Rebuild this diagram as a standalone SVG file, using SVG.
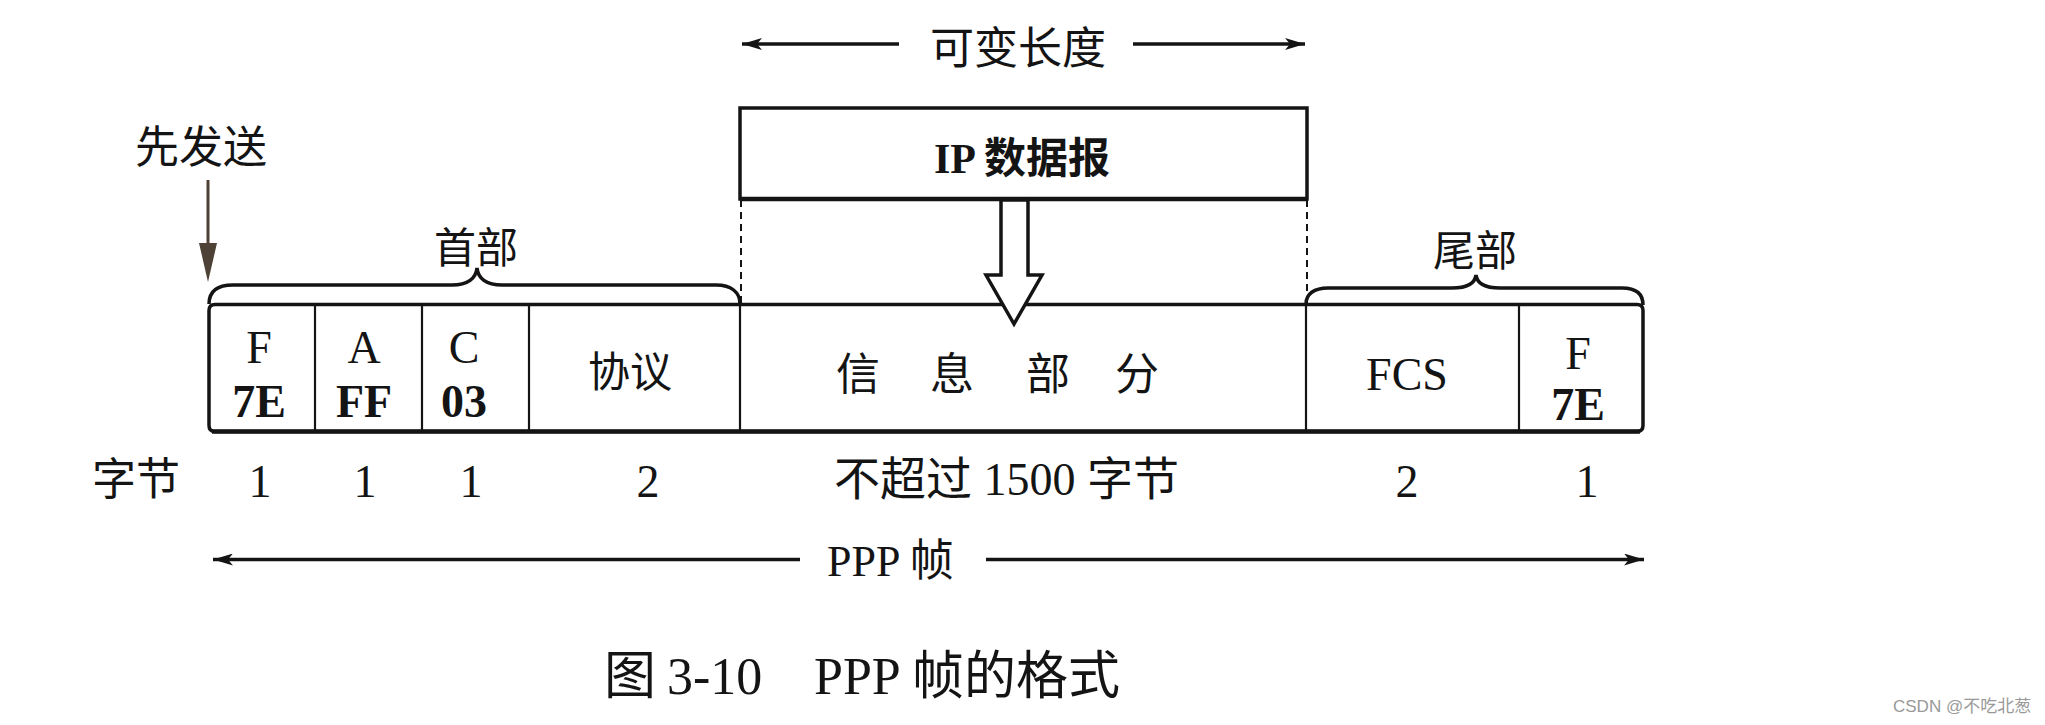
<svg xmlns="http://www.w3.org/2000/svg" width="2045" height="725" viewBox="0 0 2045 725">
<defs>
<style>
.ln{stroke:#141414;fill:none;stroke-width:3.5}
.dv{stroke:#141414;fill:none;stroke-width:2.2}
.ds{stroke:#141414;fill:none;stroke-width:2;stroke-dasharray:7 5}
.t{font-family:"Liberation Serif","Noto Sans CJK SC",serif;fill:#141414}
.b{font-weight:bold}
.m{text-anchor:middle}
</style>
<marker id="ah" markerUnits="userSpaceOnUse" markerWidth="20" markerHeight="12" refX="20" refY="6" orient="auto-start-reverse">
<path d="M0,0 L20,6 L0,12 L5,6 Z" fill="#141414"/>
</marker>
</defs>
<rect width="2045" height="725" fill="#ffffff"/>

<g id="connectors">
<line class="ln" x1="742" y1="44" x2="899" y2="44" marker-start="url(#ah)"/>
<line class="ln" x1="1133" y1="44" x2="1305" y2="44" marker-end="url(#ah)"/>
<line class="ds" x1="741" y1="200" x2="741" y2="303"/>
<line class="ds" x1="1307" y1="200" x2="1307" y2="305"/>
<line x1="208" y1="180" x2="208" y2="248" stroke="#4e4237" stroke-width="3"/>
<polygon points="199,243 217,243 208,282" fill="#4e4237"/>
<line class="ln" x1="213" y1="559.5" x2="800" y2="559.5" marker-start="url(#ah)"/>
<line class="ln" x1="986" y1="559.5" x2="1644" y2="559.5" marker-end="url(#ah)"/>
</g>

<g id="frame">
<path class="ln" d="M215,304.5 L1637,304.5 Q1643,304.5 1643,310.5 L1643,425.5 Q1643,431.5 1637,431.5 L215,431.5 Q209,431.5 209,425.5 L209,310.5 Q209,304.5 215,304.5 Z"/>
<line x1="212" y1="431.5" x2="1640" y2="431.5" stroke="#141414" stroke-width="4.5"/>
<line class="dv" x1="315" y1="304" x2="315" y2="431"/>
<line class="dv" x1="422" y1="304" x2="422" y2="431"/>
<line class="dv" x1="529" y1="304" x2="529" y2="431"/>
<line class="dv" x1="740" y1="304" x2="740" y2="431"/>
<line class="dv" x1="1306" y1="304" x2="1306" y2="431"/>
<line class="dv" x1="1519" y1="304" x2="1519" y2="431"/>
</g>

<g id="send-first">
<text class="t" x="135" y="163" font-size="44">先发送</text>
</g>

<g id="header-brace">
<path class="ln" d="M209,304 C209,291 218,285 233,285 L452,285 C468,285 476,278 477,268 C478,278 486,285 502,285 L716,285 C731,285 740,292 740,304"/>
<text class="t m" x="476" y="263" font-size="42">首部</text>
</g>

<g id="trailer-brace">
<path class="ln" d="M1306,304 C1306,294 1314,288 1328,288 L1452,288 C1467,288 1475,283 1476,275 C1477,283 1485,288 1500,288 L1622,288 C1636,288 1643,294 1643,305"/>
<text class="t m" x="1475" y="266" font-size="42">尾部</text>
</g>

<g id="variable-length">
<text class="t m" x="1018" y="64" font-size="44">可变长度</text>
</g>

<g id="ip-datagram">
<rect class="ln" x="740" y="108" width="567" height="91"/>
<line x1="740" y1="199" x2="1307" y2="199" stroke="#141414" stroke-width="4.5"/>
<text class="t b m" x="1022" y="173" font-size="42">IP 数据报</text>
</g>

<g id="hollow-arrow">
<polygon points="1001,200 1001,275 986,275 1014,324 1042,275 1028,275 1028,200" fill="#ffffff" stroke="#141414" stroke-width="3.5" stroke-linejoin="miter"/>
</g>

<g id="field-F1">
<text class="t m" x="259" y="363" font-size="46">F</text>
<text class="t b m" x="259" y="417" font-size="46">7E</text>
</g>
<g id="field-A">
<text class="t m" x="364" y="363" font-size="46">A</text>
<text class="t b m" x="364" y="417" font-size="46">FF</text>
</g>
<g id="field-C">
<text class="t m" x="464" y="363" font-size="46">C</text>
<text class="t b m" x="464" y="417" font-size="46">03</text>
</g>
<g id="field-protocol">
<text class="t m" x="630" y="387" font-size="42">协议</text>
</g>
<g id="field-info">
<text class="t" x="836 880 930 974 1026 1070 1115" y="390" font-size="44" xml:space="preserve">信 息 部 分</text>
</g>
<g id="field-FCS">
<text class="t m" x="1407" y="390" font-size="46">FCS</text>
</g>
<g id="field-F2">
<text class="t m" x="1578" y="369" font-size="46">F</text>
<text class="t b m" x="1578" y="420" font-size="46">7E</text>
</g>

<g id="byte-row">
<text class="t" x="92" y="495" font-size="44">字节</text>
<text class="t m" x="260" y="497" font-size="46">1</text>
<text class="t m" x="365" y="497" font-size="46">1</text>
<text class="t m" x="471" y="497" font-size="46">1</text>
<text class="t m" x="648" y="497" font-size="46">2</text>
<text class="t" x="834" y="495" font-size="46">不超过 1500 字节</text>
<text class="t m" x="1407" y="497" font-size="46">2</text>
<text class="t m" x="1587" y="497" font-size="46">1</text>
</g>

<g id="ppp-frame-label">
<text class="t" x="827" y="576" font-size="44">PPP 帧</text>
</g>

<g id="caption">
<text class="t" y="694" font-size="52" xml:space="preserve"><tspan x="604">图 </tspan><tspan x="667">3-10 </tspan><tspan x="814">PPP </tspan><tspan x="912">帧的格式</tspan></text>
</g>

<g id="watermark">
<text x="1893" y="712" font-size="17" fill="#999999" font-family="'Liberation Sans','Noto Sans CJK SC',sans-serif">CSDN @不吃北葱</text>
</g>
</svg>
